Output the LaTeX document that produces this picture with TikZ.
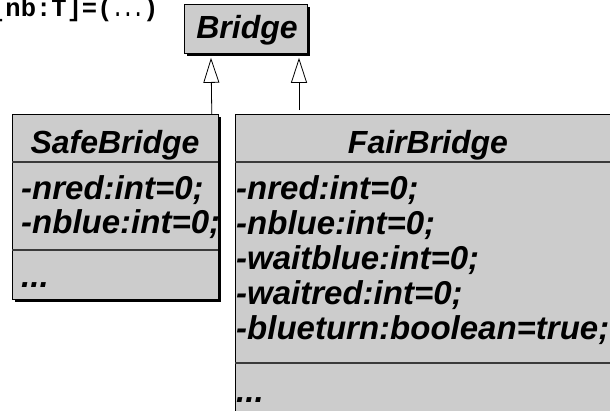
\documentclass[tikz,border=0pt]{standalone}
\usepackage{graphicx}
\usepackage{fontspec}
\setmainfont{Liberation Sans}
\newfontfamily\tagfont{Liberation Mono}
\usetikzlibrary{arrows.meta,shadows,calc}
\definecolor{boxgray}{HTML}{CCCCCC}
\definecolor{sepgray}{HTML}{3A3A3A}
\begin{document}
\begin{tikzpicture}[x=1pt,y=-1pt,
  classbox/.style={draw=black, line width=0.8pt, fill=boxgray, inner sep=0pt,
    anchor=north west,
    drop shadow={shadow xshift=3pt, shadow yshift=-3pt, fill=black, opacity=1}},
  sepline/.style={draw=sepgray, line width=1.3pt},
  title/.style={anchor=base, inner sep=0pt,
    font=\bfseries\itshape\fontsize{32pt}{34pt}\selectfont},
  attr/.style={anchor=base west, inner sep=0pt,
    font=\bfseries\itshape\fontsize{33pt}{35pt}\selectfont},
  generalization/.style={draw=black, line width=0.8pt,
    -{Triangle[open, length=25pt, width=16pt, fill=white, line width=0.8pt]}}]

\useasboundingbox (0,0) rectangle (610,410);
\fill[white] (0,0) rectangle (610,410);
\clip (0,0) rectangle (610,410);

% tagged value, partly above the frame
\node[anchor=base west, inner sep=0pt,
  font=\tagfont\bfseries\fontsize{25.5pt}{26pt}\selectfont] (tag) at (-10,16)
  {[nb:T]=(\makebox[1.2em][c]{\scalebox{0.67}[1]{...}})};

% superclass
\node[classbox, minimum width=123pt, minimum height=49pt] (bridge) at (184,4) {};
\node[title] (bridgename) at (247,38) {Bridge};

% SafeBridge
\node[classbox, minimum width=206pt, minimum height=185pt] (safe) at (12,114) {};
\draw[sepline] (12,162) -- (218,162);
\draw[sepline] (12,250) -- (218,250);
\node[title] (safename) at (115,153) {SafeBridge};
\node[attr] (safeA) at (21,199) {-nred:int=0;};
\node[attr] (safeB) at (21,233) {-nblue:int=0;};
\node[attr] (safeC) at (21,287) {...};

% FairBridge
\node[classbox, minimum width=386pt, minimum height=340pt] (fair) at (235,114) {};
\draw[sepline] (235,162) -- (621,162);
\draw[sepline] (235,363) -- (621,363);
\node[title] (fairname) at (428,153) {FairBridge};
\node[attr] (fairA) at (236,199) {-nred:int=0;};
\node[attr] (fairB) at (236,234) {-nblue:int=0;};
\node[attr] (fairC) at (236,269) {-waitblue:int=0;};
\node[attr] (fairD) at (236,304) {-waitred:int=0;};
\node[attr] (fairE) at (236,339) {-blueturn:boolean=true;};
\node[attr] (fairF) at (236,402) {...};

% inheritance arrows
\draw[generalization] ($(safe.north east)+(-7,0)$) -- ($(bridge.south west)+(27,4)$);
\draw[generalization] ($(fair.north west)+(64,-4)$) -- ($(bridge.south west)+(115,4)$);
\end{tikzpicture}
\end{document}
